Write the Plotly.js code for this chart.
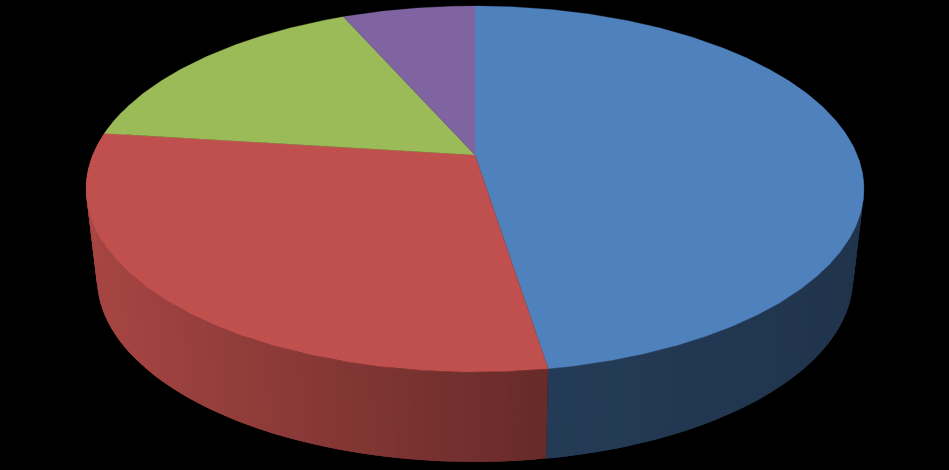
<!DOCTYPE html>
<html>
<head>
<meta charset="utf-8">
<script src="https://cdn.plot.ly/plotly-3.0.1.min.js"></script>
<style>html,body{margin:0;padding:0;background:#000;overflow:hidden}#c{width:949px;height:470px}</style>
</head>
<body>
<div id="c"></div>
<script>
// Series values (percent of the pie, clockwise from 12 o'clock)
const sliceValues = [47.5, 29.5, 16.4, 6.6];
const topColors = ['#4f81bd', '#c0504d', '#9bbb59', '#8064a2'];
// Side-wall shading: brightness factor at the two ends of the visible wall
const wallShadeStart = [0.46, 0.53, 0.8, 0.8];
const wallShadeEnd = [0.40, 0.87, 0.8, 0.8];

// Projection of the disc (perspective view)
const view = {cx: 475, topY: 155, baseY: 243.8, B: 382.2, A: 176.7, k: 0.1857, baseScaleX: 0.972, baseScaleY: 1.005};

function project(deg, level) {
  const t = deg * Math.PI / 180, u = Math.sin(t), v = Math.cos(t);
  const d = 1 + view.k * v;
  const sx = level === 0 ? 1 : view.baseScaleX;
  const sy = level === 0 ? 1 : view.baseScaleY;
  const y0 = level === 0 ? view.topY : view.baseY;
  return [view.cx + sx * view.B * u / d, y0 - sy * view.A * v / d];
}
function hexRgb(h) { return [1, 3, 5].map(i => parseInt(h.substr(i, 2), 16)); }
function shade(h, f) { return 'rgb(' + hexRgb(h).map(c => Math.round(c * f)).join(',') + ')'; }
function poly(xs, ys, color, lw) {
  return {type: 'scatter', mode: 'lines', x: xs, y: ys, fill: 'toself', fillcolor: color,
          line: {color: color, width: lw}, hoverinfo: 'skip', showlegend: false};
}

const total = sliceValues.reduce((a, b) => a + b, 0);
const traces = [];
const tops = [];
let start = 0;
sliceValues.forEach((val, i) => {
  const end = start + val / total * 360;
  const step = 1.2;
  // wall: only the near side of the disc can be seen
  const wallFrom = Math.max(start, 60), wallTo = Math.min(end, 285);
  const xStart = 547, xEnd = i === 0 ? 853 : 97;
  for (let a = wallFrom; a < wallTo; a += step) {
    // each quad runs on under the next one, so no seam shows between them
    const mid = a + step / 2, b = Math.min(a + step * 2, wallTo);
    const p1 = project(a, 0), p2 = project(b, 0), p3 = project(b, 1), p4 = project(a, 1);
    const xm = project(mid, 1)[0];
    const frac = Math.min(1, Math.max(0, (xm - xStart) / (xEnd - xStart)));
    const f = wallShadeStart[i] + (wallShadeEnd[i] - wallShadeStart[i]) * frac;
    traces.push(poly([p1[0], p2[0], p3[0], p4[0], p1[0]], [p1[1], p2[1], p3[1], p4[1], p1[1]],
                     shade(topColors[i], f), 0));
  }
  // top face
  const xs = [view.cx], ys = [view.topY];
  for (let a = start; a <= end + 1e-6; a += 0.5) {
    const p = project(Math.min(a, end), 0); xs.push(p[0]); ys.push(p[1]);
  }
  const pe = project(end, 0); xs.push(pe[0], view.cx); ys.push(pe[1], view.topY);
  tops.push(poly(xs, ys, topColors[i], 0.3));
  start = end;
});

const layout = {
  width: 949, height: 470,
  margin: {l: 0, r: 0, t: 0, b: 0},
  paper_bgcolor: '#000', plot_bgcolor: '#000',
  xaxis: {range: [0, 949], visible: false, fixedrange: true},
  yaxis: {range: [470, 0], visible: false, fixedrange: true},
  showlegend: false
};
Plotly.newPlot('c', traces.concat(tops), layout, {displayModeBar: false, staticPlot: true});
</script>
</body>
</html>
